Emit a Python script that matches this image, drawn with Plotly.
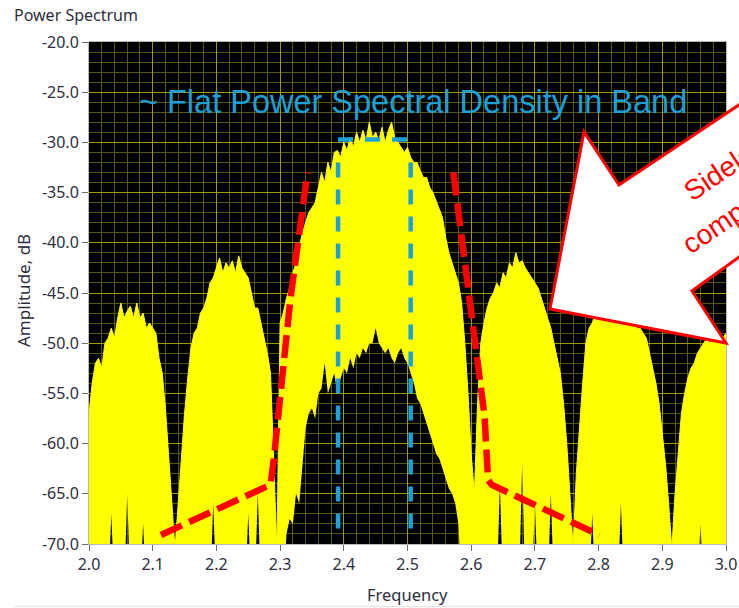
import plotly.graph_objects as go

# ---------------- data ----------------
FREQ = [
    2.000, 2.005, 2.010, 2.015, 2.020, 2.025, 2.030, 2.035, 2.040, 2.045,
    2.050, 2.055, 2.060, 2.065, 2.070, 2.075, 2.080, 2.085, 2.090, 2.095,
    2.100, 2.105, 2.110, 2.115, 2.120, 2.125, 2.130, 2.135, 2.140, 2.145,
    2.150, 2.155, 2.160, 2.165, 2.170, 2.175, 2.180, 2.185, 2.190, 2.195,
    2.200, 2.205, 2.210, 2.215, 2.220, 2.225, 2.230, 2.235, 2.240, 2.245,
    2.250, 2.255, 2.260, 2.265, 2.270, 2.275, 2.280, 2.285, 2.290, 2.295,
    2.300, 2.305, 2.310, 2.315, 2.320, 2.325, 2.330, 2.335, 2.340, 2.345,
    2.350, 2.355, 2.360, 2.365, 2.370, 2.375, 2.380, 2.385, 2.390, 2.395,
    2.400, 2.405, 2.410, 2.415, 2.420, 2.425, 2.430, 2.435, 2.440, 2.445,
    2.450, 2.455, 2.460, 2.465, 2.470, 2.475, 2.480, 2.485, 2.490, 2.495,
    2.500, 2.505, 2.510, 2.515, 2.520, 2.525, 2.530, 2.535, 2.540, 2.545,
    2.550, 2.555, 2.560, 2.565, 2.570, 2.575, 2.580, 2.585, 2.590, 2.595,
    2.600, 2.605, 2.610, 2.615, 2.620, 2.625, 2.630, 2.635, 2.640, 2.645,
    2.650, 2.655, 2.660, 2.665, 2.670, 2.675, 2.680, 2.685, 2.690, 2.695,
    2.700, 2.705, 2.710, 2.715, 2.720, 2.725, 2.730, 2.735, 2.740, 2.745,
    2.750, 2.755, 2.760, 2.765, 2.770, 2.775, 2.780, 2.785, 2.790, 2.795,
    2.800, 2.805, 2.810, 2.815, 2.820, 2.825, 2.830, 2.835, 2.840, 2.845,
    2.850, 2.855, 2.860, 2.865, 2.870, 2.875, 2.880, 2.885, 2.890, 2.895,
    2.900, 2.905, 2.910, 2.915, 2.920, 2.925, 2.930, 2.935, 2.940, 2.945,
    2.950, 2.955, 2.960, 2.965, 2.970, 2.975, 2.980, 2.985, 2.990, 2.995,
    3.000,
]

# upper edge of the yellow spectrum trace (dB)
SPEC_UPPER = [
    -57, -54, -52, -51.5, -52.5, -50, -49.5, -48.5, -49.5, -47.5,
    -46, -47.5, -46.8, -46.3, -47.5, -46, -47.5, -47, -48.5, -48,
    -48.5, -49, -51.5, -53, -56.5, -61, -66, -70.5, -66, -61,
    -57, -53.5, -50.5, -49, -48.5, -47, -46.5, -45.5, -44, -43.5,
    -42.5, -41.5, -43, -42, -42.5, -41.8, -43, -41.3, -42.5, -43,
    -43.5, -45, -46.5, -46.5, -48, -49.5, -51, -53, -63, -70.5,
    -48, -47, -45.5, -44.5, -43, -42, -40.5, -39, -38, -37,
    -36.5, -36, -34.5, -33, -34, -32, -33, -31, -30.8, -31.5,
    -30, -30.8, -29.5, -30.5, -29, -30, -28.8, -29.8, -28, -29.5,
    -29, -29.8, -28.5, -30, -28.8, -28, -29.5, -30, -30.5, -31,
    -30.5, -31.5, -32, -32, -32.8, -33.5, -33.5, -34.5, -35, -35.8,
    -36.5, -37.5, -39.5, -41, -42, -43, -44, -46, -50, -55,
    -61, -65, -56, -50, -48, -46.5, -45.5, -45, -44, -44.5,
    -43, -43.5, -42, -42.5, -41, -42, -41.8, -42.5, -43, -43.5,
    -44, -44.5, -45.5, -46.5, -47.5, -48.5, -50, -51.5, -53, -56,
    -60, -65, -70.5, -63, -58, -54, -50, -48.5, -48, -47,
    -46.5, -47, -46, -46.5, -46, -46.5, -46.5, -47, -47.5, -47.5,
    -48, -48, -48.5, -48.5, -49, -49.5, -51, -52.5, -54, -56,
    -59, -62, -66, -70.5, -65, -61, -57, -55, -53.5, -52.5,
    -52, -51, -50.5, -50, -49.5, -50, -49, -49.5, -49, -49.5,
    -49,
]

# lower edge of the yellow spectrum trace (dB); -75 = below the visible range
SPEC_LOWER = [
    -75, -75, -75, -75, -75, -75, -75, -67, -75, -75,
    -75, -75, -65, -75, -75, -75, -75, -68, -75, -75,
    -75, -75, -75, -75, -75, -75, -75, -75, -75, -75,
    -75, -75, -75, -75, -75, -75, -75, -75, -75, -66,
    -75, -75, -75, -75, -75, -75, -75, -75, -75, -75,
    -67, -75, -75, -65, -75, -75, -75, -75, -75, -75,
    -75, -75, -69, -67.5, -68, -65, -66, -62, -58.5, -57,
    -56.5, -57.5, -55, -54.5, -52, -55, -54, -53, -55, -53.5,
    -52.5, -53, -51.5, -52.5, -51, -51.5, -50.5, -51, -50, -50,
    -48.5, -50, -50.5, -51, -50.5, -51.5, -52, -51, -50.5, -51.5,
    -52, -53, -54, -55.5, -56, -57, -58, -59, -60, -61,
    -61.5, -62.5, -63.5, -64.5, -65, -66, -68, -75, -75, -75,
    -75, -75, -75, -75, -75, -75, -75, -75, -75, -64,
    -75, -75, -75, -75, -75, -75, -62, -75, -75, -75,
    -66, -75, -75, -75, -75, -65, -75, -75, -75, -75,
    -75, -75, -75, -75, -75, -75, -75, -75, -67, -75,
    -75, -75, -75, -75, -75, -75, -75, -66, -75, -75,
    -75, -75, -75, -75, -75, -75, -75, -75, -75, -75,
    -75, -75, -75, -75, -75, -75, -75, -75, -75, -75,
    -75, -75, -68, -75, -75, -75, -75, -75, -75, -75,
    -75,
]

# red dashed spectral mask
MASK_LEFT_F = [2.113, 2.285, 2.290, 2.316, 2.343]
MASK_LEFT_DB = [-69.1, -64.1, -61.6, -45.7, -33.0]
MASK_RIGHT_F = [2.572, 2.598, 2.621, 2.6265, 2.632, 2.801]
MASK_RIGHT_DB = [-33.0, -45.7, -57.3, -63.6, -64.1, -69.1]

# blue dashed band markers
BAND_F = [2.391, 2.505]
BAND_TOP_DB = -29.7
BAND_VERT_DB = [-32.0, -69.6]

X_TICKS = [2.0, 2.1, 2.2, 2.3, 2.4, 2.5, 2.6, 2.7, 2.8, 2.9, 3.0]
X_TICK_TEXT = ["2.0", "2.1", "2.2", "2.3", "2.4", "2.5", "2.6", "2.7", "2.8", "2.9", "3.0"]
Y_TICKS = [-20, -25, -30, -35, -40, -45, -50, -55, -60, -65, -70]
Y_TICK_TEXT = ["-20.0", "-25.0", "-30.0", "-35.0", "-40.0", "-45.0",
               "-50.0", "-55.0", "-60.0", "-65.0", "-70.0"]

TITLE = "Power Spectrum"
X_TITLE = "Frequency"
Y_TITLE = "Amplitude, dB"
BAND_TEXT = "~ Flat Power Spectral Density in Band"
CALLOUT_LINES = ["Sidelobes", "compressed"]

assert len(FREQ) == len(SPEC_UPPER) == len(SPEC_LOWER)

# ---------------- layout geometry ----------------
W, H = 739, 608
ML, MR, MT, MB = 89, 13, 42, 64
PW, PH = W - ML - MR, H - MT - MB


def pxx(x):
    return (x - ML) / PW


def pyy(y):
    return (H - MB - y) / PH


YELLOW = "#ffff00"
RED = "#ff0000"
BLUE = "#1ba1d8"
TXT = "#2e2e3e"
FONT = "Noto Sans"

fig = go.Figure()

fig.add_trace(go.Scatter(x=FREQ, y=SPEC_LOWER, mode="lines",
                         line=dict(color=YELLOW, width=0), hoverinfo="skip",
                         showlegend=False))
fig.add_trace(go.Scatter(x=FREQ, y=SPEC_UPPER, mode="lines", fill="tonexty",
                         fillcolor=YELLOW, line=dict(color=YELLOW, width=1),
                         hoverinfo="skip", showlegend=False))

for fx, fy in ((MASK_LEFT_F, MASK_LEFT_DB), (MASK_RIGHT_F, MASK_RIGHT_DB)):
    fig.add_trace(go.Scatter(x=fx, y=fy, mode="lines",
                             line=dict(color=RED, width=6.5, dash="23px,8px"),
                             hoverinfo="skip", showlegend=False))

shapes = []
bl = dict(color=BLUE, width=4.5, dash="15px,12px")
shapes.append(dict(type="line", xref="x", yref="y", x0=BAND_F[0], x1=BAND_F[1],
                   y0=BAND_TOP_DB, y1=BAND_TOP_DB, line=bl, layer="above"))
for bf in BAND_F:
    shapes.append(dict(type="line", xref="x", yref="y", x0=bf, x1=bf,
                       y0=BAND_VERT_DB[0], y1=BAND_VERT_DB[1], line=bl, layer="above"))

# callout arrow (white block arrow with red outline), pixel positions
arrow_px = [(550, 309), (584, 132), (619, 185), (950, -36),
            (950, 105), (692, 291), (726, 343)]
path = "M " + " L ".join(f"{pxx(a):.4f},{pyy(b):.4f}" for a, b in arrow_px) + " Z"
shapes.append(dict(type="path", xref="paper", yref="paper", path=path,
                   fillcolor="white", line=dict(color=RED, width=3), layer="above"))

# light separator at the bottom of the panel
shapes.append(dict(type="line", xref="paper", yref="paper", x0=pxx(13), x1=pxx(760),
                   y0=pyy(606.5), y1=pyy(606.5), line=dict(color="#e6e6e6", width=1.5)))

annotations = [
    dict(text=TITLE, xref="paper", yref="paper", x=pxx(12), y=pyy(15),
         xanchor="left", yanchor="middle", showarrow=False,
         font=dict(family=FONT, size=16, color=TXT)),
    dict(text=X_TITLE, xref="paper", yref="paper", x=pxx(407), y=pyy(594),
         xanchor="center", yanchor="middle", showarrow=False,
         font=dict(family=FONT, size=16.5, color=TXT)),
    dict(text=Y_TITLE, xref="paper", yref="paper", x=pxx(23), y=pyy(291),
         xanchor="center", yanchor="middle", showarrow=False, textangle=-90,
         font=dict(family=FONT, size=17, color=TXT)),
    dict(text=BAND_TEXT, xref="paper", yref="paper", x=pxx(413), y=pyy(102),
         xanchor="center", yanchor="middle", showarrow=False,
         font=dict(family="Liberation Sans", size=32.5, color=BLUE)),
    dict(text=CALLOUT_LINES[0], xref="paper", yref="paper", x=pxx(738), y=pyy(159),
         xanchor="center", yanchor="middle", showarrow=False, textangle=-34,
         font=dict(family="Liberation Sans", size=28, color=RED)),
    dict(text=CALLOUT_LINES[1], xref="paper", yref="paper", x=pxx(748), y=pyy(204),
         xanchor="center", yanchor="middle", showarrow=False, textangle=-34,
         font=dict(family="Liberation Sans", size=28, color=RED)),
]

axis_common = dict(showline=True, linecolor="#b8b8b8", linewidth=1, mirror=True,
                   ticks="outside", ticklen=6, tickcolor="#6e6e6e", tickwidth=1,
                   zeroline=False, showgrid=True, gridcolor="#9c9c00", gridwidth=1,
                   automargin=False,
                   tickfont=dict(family=FONT, size=16, color=TXT))

fig.update_layout(
    template="none",
    width=W, height=H, autosize=False,
    margin=dict(l=ML, r=MR, t=MT, b=MB, pad=0),
    paper_bgcolor="white", plot_bgcolor="black",
    showlegend=False, shapes=shapes, annotations=annotations,
    xaxis=dict(range=[2.0, 3.0], tickvals=X_TICKS, ticktext=X_TICK_TEXT,
               minor=dict(dtick=0.02, showgrid=True, gridcolor="#585800", gridwidth=1,
                          ticks=""),
               **axis_common),
    yaxis=dict(range=[-70, -20], tickvals=Y_TICKS, ticktext=Y_TICK_TEXT,
               minor=dict(dtick=1, showgrid=True, gridcolor="#585800", gridwidth=1,
                          ticks=""),
               **axis_common),
)

fig.write_html("out.html", config={"displayModeBar": False})
